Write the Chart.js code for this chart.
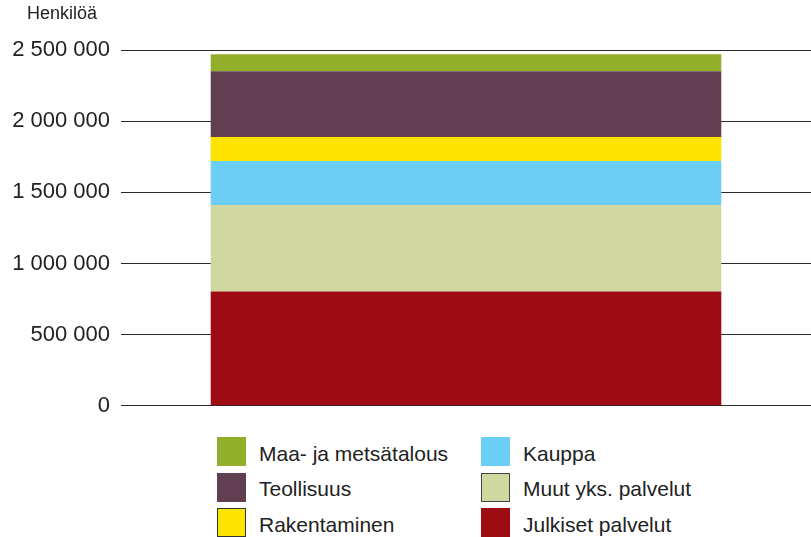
<!DOCTYPE html>
<html>
<head>
<meta charset="utf-8">
<script src="https://cdn.jsdelivr.net/npm/chart.js@4"></script>
<style>
  html, body { margin:0; padding:0; background:#fff; }
  body { width:811px; height:537px; position:relative; overflow:hidden; font-family:'Liberation Sans', Arial, sans-serif; }
  #wrap { position:absolute; left:0; top:0; width:811px; height:430px; }
  #unit { position:absolute; left:27px; top:3px; font-size:18px; color:#222; }
  .legend { position:absolute; top:437px; }
  .item { height:29px; margin-bottom:6.5px; display:flex; align-items:center; font-size:21px; color:#222; white-space:nowrap; }
  .item span { position:relative; top:2px; }
  .box { width:29px; height:29px; box-sizing:border-box; margin-right:13px; }
</style>
</head>
<body>
<div id="wrap"><canvas id="c"></canvas></div>
<div id="unit">Henkilöä</div>
<div class="legend" id="leg1" style="left:217px"></div>
<div class="legend" id="leg2" style="left:481px"></div>
<script>
// stacked from the bottom up
const categories = [''];
const seriesNames = ['Julkiset palvelut', 'Muut yks. palvelut', 'Kauppa', 'Rakentaminen', 'Teollisuus', 'Maa- ja metsätalous'];
const julkiset = [803600];
const muut = [608000];
const kauppa = [308600];
const rakentaminen = [168300];
const teollisuus = [462800];
const maa = [119200];
const yTicks = [0, 500000, 1000000, 1500000, 2000000, 2500000];

const colors = ['#9e0b12', '#d0d8a0', '#6bcff5', '#fce300', '#623f50', '#93ae2b'];
const values = [julkiset, muut, kauppa, rakentaminen, teollisuus, maa];

const fmt = v => String(v).replace(/\B(?=(\d{3})+(?!\d))/g, ' ');

new Chart(document.getElementById('c'), {
  type: 'bar',
  data: {
    labels: categories,
    datasets: seriesNames.map((name, i) => ({
      label: name,
      data: values[i],
      backgroundColor: colors[i],
      borderWidth: 0,
      barPercentage: 0.74,
      categoryPercentage: 1
    }))
  },
  options: {
    responsive: true,
    maintainAspectRatio: false,
    animation: false,
    layout: { padding: { top: 50, right: 0, bottom: 4, left: 0 } },
    scales: {
      x: { stacked: true, display: false },
      y: {
        stacked: true,
        min: 0, max: 2500000,
        z: 1,
        afterBuildTicks: (s) => { s.ticks = yTicks.map(v => ({ value: v })); },
        afterFit: (s) => { s.width = 121; },
        border: { display: false },
        grid: { color: '#2a2a2a', lineWidth: 1, drawTicks: false },
        ticks: {
          color: '#222', padding: 11,
          font: { family: 'Liberation Sans', size: 22 },
          callback: (v) => fmt(v)
        }
      }
    },
    plugins: { legend: { display: false }, tooltip: { enabled: false } }
  }
});

// legend in two columns, top of stack first
const order = [5, 4, 3, 2, 1, 0];
const bordered = { 3: '#333', 1: '#444' };
order.forEach((idx, k) => {
  const el = document.createElement('div');
  el.className = 'item';
  const b = document.createElement('div');
  b.className = 'box';
  b.style.background = colors[idx];
  if (bordered[idx]) b.style.border = '1px solid ' + bordered[idx];
  el.appendChild(b);
  const t = document.createElement('span');
  t.textContent = seriesNames[idx];
  el.appendChild(t);
  document.getElementById(k < 3 ? 'leg1' : 'leg2').appendChild(el);
});
</script>
</body>
</html>
